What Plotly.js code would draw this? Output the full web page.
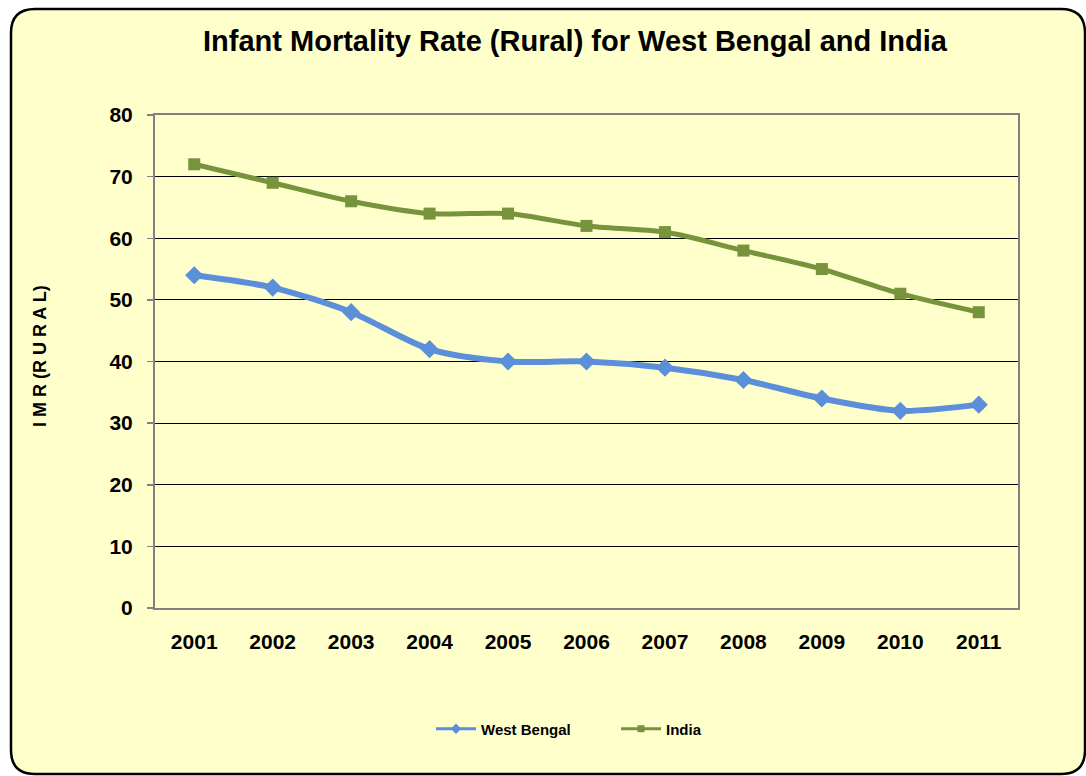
<!DOCTYPE html>
<html>
<head>
<meta charset="utf-8">
<script src="https://cdn.plot.ly/plotly-3.0.1.min.js"></script>
<style>html,body{margin:0;padding:0;background:#fff;}#chart{width:1086px;height:776px;}</style>
</head>
<body>
<div id="chart"></div>
<script>
const years = ['2001','2002','2003','2004','2005','2006','2007','2008','2009','2010','2011'];
const westBengal = [54, 52, 48, 42, 40, 40, 39, 37, 34, 32, 33];
const india = [72, 69, 66, 64, 64, 62, 61, 58, 55, 51, 48];
const yTicks = [0, 10, 20, 30, 40, 50, 60, 70, 80];
const seriesNames = ['West Bengal', 'India'];

const W = 1086, H = 776;
const M = {l: 155, r: 68, t: 115, b: 168};
const PW = W - M.l - M.r, PH = H - M.t - M.b;
const px = x => (x - M.l) / PW;
const py = y => (H - M.b - y) / PH;

function roundRect(x0, y0, x1, y1, r) {
  const p = (x, y) => px(x) + ',' + py(y);
  return 'M' + p(x0 + r, y0) + ' L' + p(x1 - r, y0) +
    ' Q' + p(x1, y0) + ' ' + p(x1, y0 + r) +
    ' L' + p(x1, y1 - r) + ' Q' + p(x1, y1) + ' ' + p(x1 - r, y1) +
    ' L' + p(x0 + r, y1) + ' Q' + p(x0, y1) + ' ' + p(x0, y1 - r) +
    ' L' + p(x0, y0 + r) + ' Q' + p(x0, y0) + ' ' + p(x0 + r, y0) + ' Z';
}

const gradSvg = '<svg xmlns="http://www.w3.org/2000/svg" width="100" height="100" preserveAspectRatio="none">' +
  '<defs><linearGradient id="g" x1="0" y1="0" x2="1" y2="1">' +
  '<stop offset="0" stop-color="#FFFFE8"/><stop offset="1" stop-color="#FEFEDA"/></linearGradient></defs>' +
  '<rect width="100" height="100" fill="url(#g)"/></svg>';
const gradUri = 'data:image/svg+xml;base64,' + btoa(gradSvg);

const BLUE = '#5B8FD9', GREEN = '#77933C';

const traces = [
  {
    x: years, y: westBengal, name: seriesNames[0], type: 'scatter', mode: 'lines+markers',
    showlegend: false,
    line: {color: BLUE, width: 6, shape: 'spline', smoothing: 0.8},
    marker: {symbol: 'diamond', size: 14, color: BLUE}
  },
  {
    x: years, y: india, name: seriesNames[1], type: 'scatter', mode: 'lines+markers',
    showlegend: false,
    line: {color: GREEN, width: 5, shape: 'spline', smoothing: 0.8},
    marker: {symbol: 'square', size: 12, color: GREEN}
  },
  {
    x: [null], y: [null], name: '<b>' + seriesNames[0] + '</b>', type: 'scatter', mode: 'lines+markers',
    line: {color: BLUE, width: 3}, marker: {symbol: 'diamond', size: 8, color: BLUE}
  },
  {
    x: [null], y: [null], name: '<b>' + seriesNames[1] + '</b>', type: 'scatter', mode: 'lines+markers',
    line: {color: GREEN, width: 3}, marker: {symbol: 'square', size: 7, color: GREEN}
  }
];

const layout = {
  width: W, height: H,
  margin: M,
  paper_bgcolor: '#FFFFFF',
  plot_bgcolor: 'rgba(0,0,0,0)',
  font: {family: 'Liberation Sans, Arial, sans-serif', color: '#000'},
  title: {
    text: '<b>Infant Mortality Rate (Rural) for West Bengal and India</b>',
    font: {size: 29, color: '#000'},
    x: px(575), xref: 'paper', xanchor: 'center', y: 1 - 41 / H, yanchor: 'middle'
  },
  xaxis: {
    type: 'category', range: [-0.5, 10.5],
    showgrid: false, zeroline: false,
    showline: true, linecolor: '#808080', linewidth: 2, mirror: true,
    ticks: '', tickfont: {size: 21}, tickprefix: '<b>', ticksuffix: '</b>',
    ticklabelstandoff: 14
  },
  yaxis: {
    range: [0, 80], tickvals: yTicks, ticktext: yTicks.map(v => '<b>' + v + '</b>'),
    showgrid: true, gridcolor: '#000000', gridwidth: 1,
    zeroline: false,
    showline: true, linecolor: '#808080', linewidth: 2, mirror: true,
    ticks: 'outside', ticklen: 6, tickcolor: '#808080', tickwidth: 1.5,
    tickfont: {size: 21}, ticklabelstandoff: 10
  },
  showlegend: true,
  legend: {
    orientation: 'h', x: px(616), xanchor: 'center', y: py(729), yanchor: 'middle',
    bgcolor: 'rgba(0,0,0,0)', font: {size: 15}, itemwidth: 40,
    entrywidth: 130, traceorder: 'normal'
  },
  annotations: [{
    text: '<b>I M R (R U R A L)</b>', textangle: -90,
    xref: 'paper', yref: 'paper', x: px(40), y: py(356),
    xanchor: 'center', yanchor: 'middle', showarrow: false,
    font: {size: 18, color: '#000'}
  }],
  shapes: [{
    type: 'path', xref: 'paper', yref: 'paper', layer: 'below',
    path: roundRect(11, 9, 1085, 774, 24),
    fillcolor: '#FFFFCC', line: {color: '#000000', width: 2.5}
  }],
  images: [{
    source: gradUri, xref: 'paper', yref: 'paper', x: 0, y: 1,
    sizex: 1, sizey: 1, xanchor: 'left', yanchor: 'top',
    sizing: 'stretch', layer: 'below'
  }]
};

Plotly.newPlot('chart', traces, layout, {displayModeBar: false, staticPlot: true});
</script>
</body>
</html>
